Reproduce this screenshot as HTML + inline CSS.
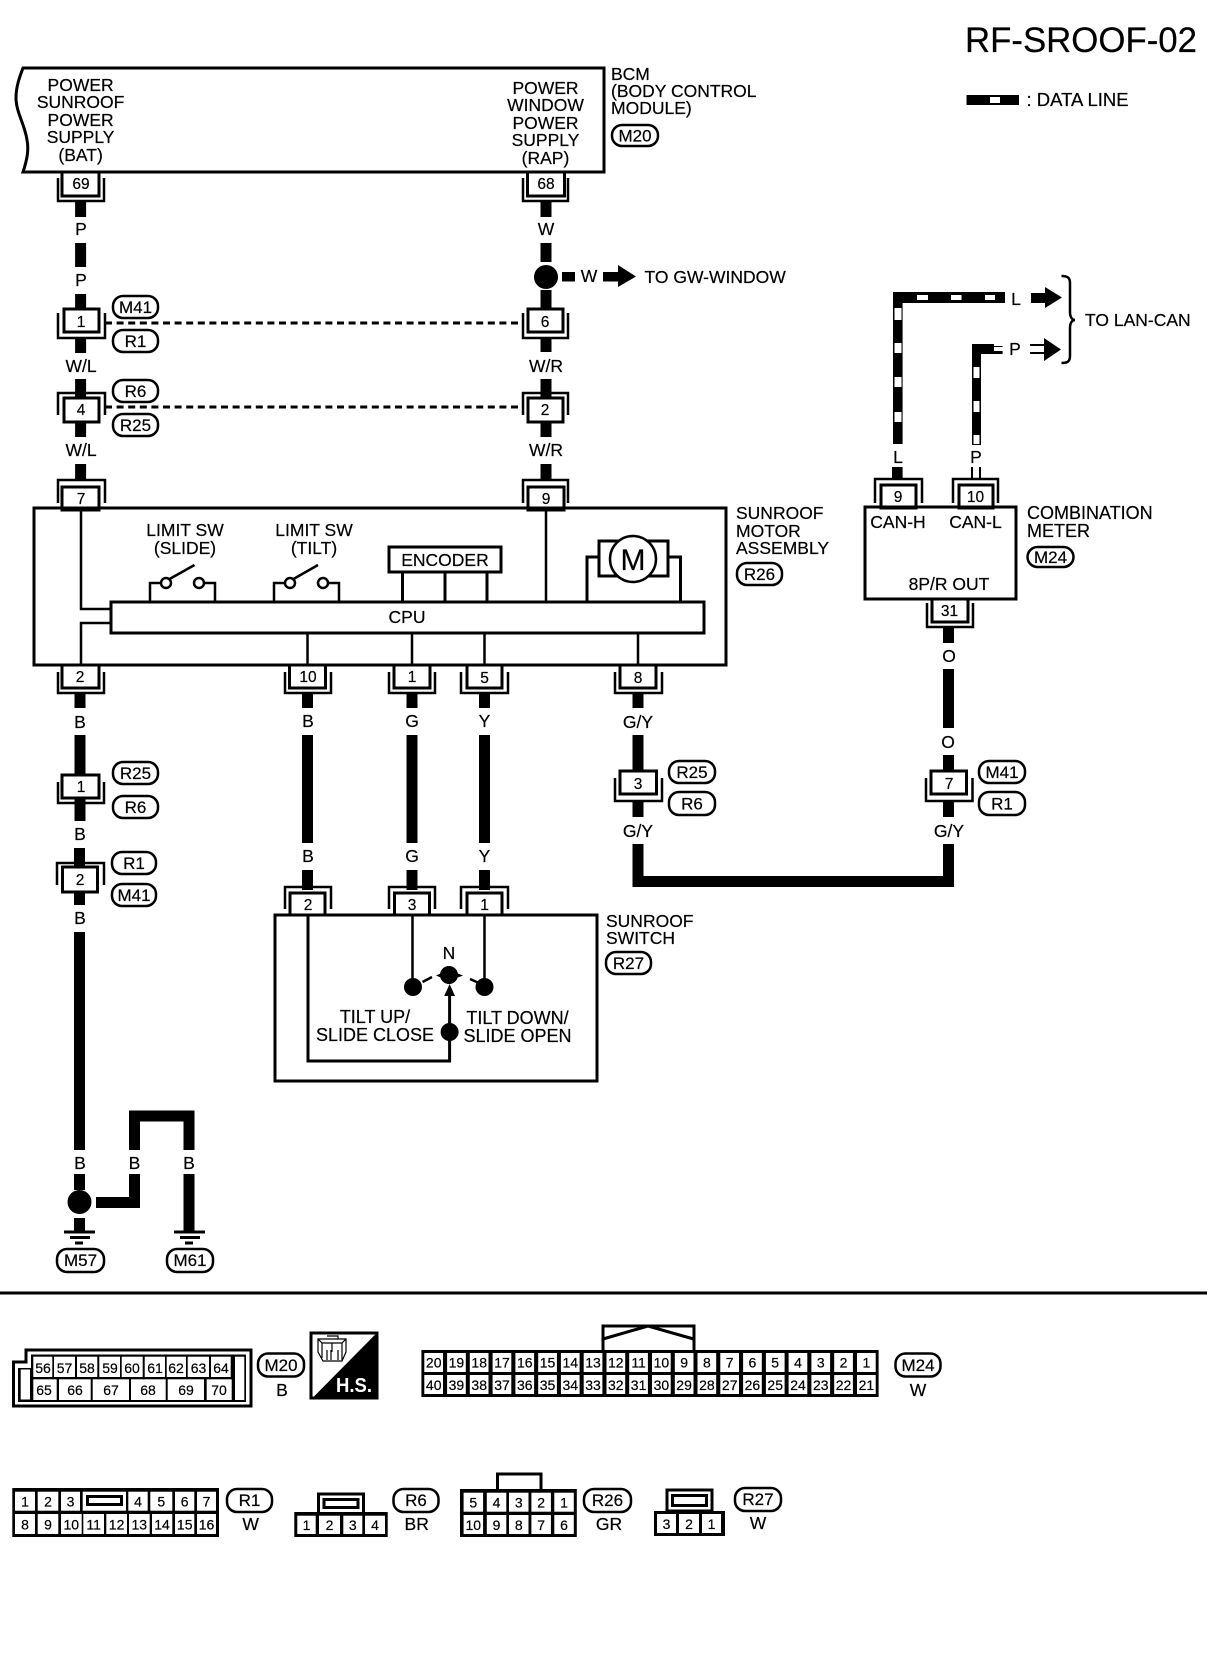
<!DOCTYPE html>
<html><head><meta charset="utf-8"><style>
html,body{margin:0;padding:0;background:#fff}
svg{display:block}
text{font-family:"Liberation Sans",sans-serif;fill:#000;stroke:#000;stroke-width:.2}
.t{font-size:17.5px}
.m{font-size:17.5px;text-anchor:middle}
.x{font-size:18px;text-anchor:middle}
.n{font-size:15.5px;text-anchor:middle}
.v{font-size:17px;text-anchor:middle}
.s{font-size:14px;text-anchor:middle}
.w{stroke:#000;stroke-width:11;fill:none}
.l{stroke:#000;stroke-width:3;fill:none}
.b{stroke:#000;stroke-width:3;fill:#fff}
.u{stroke:#000;stroke-width:2.5;fill:none}
.o{stroke:#000;stroke-width:2.5;fill:#fff}
.c{fill:#fff;stroke:none}
.k{fill:#000;stroke:none}
.d{stroke:#000;stroke-width:3;stroke-dasharray:7 4.6;fill:none}
</style></head><body>
<svg xmlns="http://www.w3.org/2000/svg" width="1216" height="1660" viewBox="0 0 1216 1660">
<rect width="1216" height="1660" fill="#fff"/>
<text x="965" y="52" style="font-size:34.8px">RF-SROOF-02</text>
<rect x="966.500" y="95" width="52.500" height="10" class="k"/><rect x="990" y="97" width="10" height="6" class="c"/>
<text x="1026.500" y="106" style="font-size:18.500px">: DATA LINE</text>

<!-- wires left -->
<path class="w" d="M80.600 202V217M80.600 243V267M80.600 294V309M80.600 338V353M80.600 379V398M80.600 422V437M80.600 464V480"/>
<path class="w" d="M546 202V217M546 243V262M546 290V309M546 338V352M546 379V398M546 422V437M546 464V480"/>
<path class="w" d="M80 693V708M80 735V821M79.500 848V867M79.500 892V905M79.500 932V1150M79.500 1174V1190M79.500 1218V1232"/>
<path class="w" d="M307.500 693V708M307.500 735V843M307.500 870V890M412 693V708M412 735V843M412 870V890M484.500 693V708M484.500 735V843M484.500 870V890"/>
<path class="w" d="M638 693V708M638 735V775M638 800V817M638 844V881.500H948.500V844M948.500 627V643M948.500 669V728M948.500 755V775M948.500 800V817"/>
<path class="w" d="M96 1202.500H134.500V1174M134.500 1150V1116H189V1150M189 1174V1232"/>
<!-- BCM -->
<path class="b" d="M23 68H604V172H23C27 160 29 150 27 140C25 125 16 112 16 98C16 86 20 76 23 68Z"/>
<text x="80.600" y="91" class="m">POWER</text><text x="80.600" y="108" class="m">SUNROOF</text><text x="80.600" y="126" class="m">POWER</text><text x="80.600" y="143" class="m">SUPPLY</text><text x="80.600" y="161" class="m">(BAT)</text>
<text x="545.500" y="94" class="m">POWER</text><text x="545.500" y="111" class="m">WINDOW</text><text x="545.500" y="129" class="m">POWER</text><text x="545.500" y="146" class="m">SUPPLY</text><text x="545.500" y="164" class="m">(RAP)</text>
<text x="611" y="80" class="t">BCM</text><text x="611" y="97" class="t">(BODY CONTROL</text><text x="611" y="114" class="t">MODULE)</text>
<rect x="612" y="125" width="46" height="21" rx="10" class="o"/><text x="635" y="141.500" class="v">M20</text>
<!-- conn 69 68 -->
<path class="u" d="M58 178V201H104V178M523 178V201H568V178"/>
<rect x="62" y="172" width="37" height="24" class="b"/><rect x="527.500" y="172" width="37" height="24" class="b"/>
<text x="81" y="189" class="n">69</text><text x="546" y="189" class="n">68</text>
<text x="81" y="235" class="m">P</text><text x="81" y="286" class="m">P</text><text x="546" y="235" class="m">W</text>
<circle cx="546" cy="277" r="12" class="k"/>
<rect x="562" y="272" width="13" height="9.500" class="k"/><text x="589" y="282" class="m">W</text>
<path class="k" d="M603 272H618V265L636 276.500L618 287V281.500H603Z"/>
<text x="644.500" y="283" class="t">TO GW-WINDOW</text>
<!-- conn 1 / 6 -->
<path class="u" d="M58 313V338H105V313M523 313V338H568V313"/>
<rect x="64" y="309" width="35" height="23" class="b"/><rect x="528" y="309" width="35" height="23" class="b"/>
<text x="81" y="327" class="n">1</text><text x="545" y="327" class="n">6</text>
<path class="d" d="M105 323H519M105 407H519"/>
<rect x="113" y="296" width="45" height="22" rx="10" class="o"/><text x="135.500" y="313" class="v">M41</text>
<rect x="113" y="330" width="45" height="22" rx="10" class="o"/><text x="135.500" y="347" class="v">R1</text>
<text x="81" y="372" class="m">W/L</text><text x="546" y="372" class="m">W/R</text>
<!-- conn 4 / 2 -->
<path class="u" d="M58 415V393H105V415M523 415V393H568V415"/>
<rect x="64" y="398" width="35" height="24" class="b"/><rect x="528" y="398" width="35" height="24" class="b"/>
<text x="81" y="415" class="n">4</text><text x="545" y="415" class="n">2</text>
<rect x="113" y="380" width="45" height="22" rx="10" class="o"/><text x="135.500" y="397" class="v">R6</text>
<rect x="113" y="414" width="45" height="22" rx="10" class="o"/><text x="135.500" y="431" class="v">R25</text>
<text x="81" y="456" class="m">W/L</text><text x="546" y="456" class="m">W/R</text>
<!-- conn 7 / 9 -->
<path class="u" d="M58 503V480H105V503M523 503V480H568V503"/>
<rect x="62" y="487" width="37" height="23" class="b"/><rect x="528" y="487" width="36" height="23" class="b"/>
<text x="81" y="504" class="n">7</text><text x="546" y="504" class="n">9</text>
<!-- motor assy -->
<rect x="34" y="508" width="692" height="157" class="l"/>
<path class="l" style="stroke-width:2.500" d="M81 508V609H111M111 623H81V665M546 508V602M307.500 633V665M412 633V665M484.500 633V665M638 633V665"/>
<rect x="111" y="602" width="593" height="31" class="b"/>
<text x="407" y="623" class="m">CPU</text>
<text x="185" y="536" class="m">LIMIT SW</text><text x="185" y="554" class="m">(SLIDE)</text>
<text x="314" y="536" class="m">LIMIT SW</text><text x="314" y="554" class="m">(TILT)</text>
<path class="u" d="M150 602V583H161M204 583H215V602M166 581L194.500 565M274 602V583H285M328 583H339V602M290 581L318 565"/>
<circle cx="166" cy="583" r="5" class="o"/><circle cx="199" cy="583" r="5" class="o"/><circle cx="290" cy="583" r="5" class="o"/><circle cx="323" cy="583" r="5" class="o"/>
<rect x="389" y="547" width="112" height="25" class="b"/><text x="445" y="566" class="m">ENCODER</text>
<path class="l" d="M402.500 572V602M445 572V602M487 572V602"/>
<path class="l" d="M587 602V557H599M668 557H680.500V602"/>
<rect x="599" y="541" width="69" height="35" class="b"/>
<circle cx="633" cy="559" r="23" class="o"/><text x="633" y="570" style="font-size:30px;text-anchor:middle">M</text>
<text x="736" y="519" class="t">SUNROOF</text><text x="736" y="537" class="t">MOTOR</text><text x="736" y="554" class="t">ASSEMBLY</text>
<rect x="737" y="563" width="45" height="22" rx="10" class="o"/><text x="759.500" y="580" class="v">R26</text>
<!-- lower connectors of motor -->
<path class="u" d="M58 672V693H104V672M285 672V693H331V672M389 672V693H435V672M461 672V693H508V672M615 672V693H662V672"/>
<g class="b"><rect x="62" y="665" width="37" height="23"/><rect x="289.500" y="665" width="36" height="23"/><rect x="394" y="665" width="36" height="23"/><rect x="467" y="665" width="35" height="23"/><rect x="620" y="665" width="36" height="23"/></g>
<text x="80" y="682" class="n">2</text><text x="308" y="682" class="n">10</text><text x="412" y="682" class="n">1</text><text x="484.500" y="683" class="n">5</text><text x="638" y="683" class="n">8</text>
<text x="80" y="728" class="m">B</text><text x="308" y="727" class="m">B</text><text x="412" y="727" class="m">G</text><text x="484.500" y="727" class="m">Y</text><text x="638" y="728" class="m">G/Y</text>
<!-- left in-line 1 and 2 -->
<path class="u" d="M58 782V803H104V782"/><rect x="62" y="775" width="37" height="23" class="b"/><text x="81" y="792" class="n">1</text>
<rect x="113" y="762" width="45" height="22" rx="10" class="o"/><text x="135.500" y="779" class="v">R25</text>
<rect x="113" y="796" width="45" height="22" rx="10" class="o"/><text x="135.500" y="813" class="v">R6</text>
<text x="80" y="840" class="m">B</text>
<path class="u" d="M57 885V863H104V885"/><rect x="62.500" y="867" width="35" height="25" class="b"/><text x="80" y="885" class="n">2</text>
<rect x="112" y="852" width="44" height="22" rx="10" class="o"/><text x="134" y="869" class="v">R1</text>
<rect x="112" y="884" width="44" height="22" rx="10" class="o"/><text x="134" y="901" class="v">M41</text>
<text x="80" y="924" class="m">B</text>
<!-- switch -->
<text x="308" y="862" class="m">B</text><text x="412" y="862" class="m">G</text><text x="484.500" y="862" class="m">Y</text>
<path class="u" d="M285 909V887H331V909M389 909V887H435V909M461 909V887H508V909"/>
<g class="b"><rect x="290" y="893" width="35" height="22"/><rect x="394.500" y="893" width="35" height="22"/><rect x="467" y="893" width="35" height="22"/></g>
<text x="308" y="910" class="n">2</text><text x="412" y="910" class="n">3</text><text x="484.500" y="910" class="n">1</text>
<rect x="275" y="915" width="322" height="166" class="l"/>
<path class="l" d="M308 915V1061H449.600V993"/><path class="u" d="M412.500 915V987M484.500 915V987M422.500 982L432 977M470 979L479 983"/>
<path class="k" d="M449.600 984L455 996H444.200Z"/>
<path class="k" d="M436 975.500L444 972H454L463 975.500L454 979H444Z"/>
<circle cx="449.600" cy="1032" r="9" class="k"/><circle cx="449" cy="975" r="9" class="k"/><circle cx="413" cy="987" r="9" class="k"/><circle cx="484.500" cy="987" r="9" class="k"/>
<text x="449" y="959" class="m">N</text>
<text x="375" y="1023" class="x">TILT UP/</text><text x="375" y="1041" class="x">SLIDE CLOSE</text>
<text x="517.500" y="1024" class="x">TILT DOWN/</text><text x="517.500" y="1042" class="x">SLIDE OPEN</text>
<text x="606" y="927" class="t">SUNROOF</text><text x="606" y="944" class="t">SWITCH</text>
<rect x="606" y="952" width="45" height="22" rx="10" class="o"/><text x="628.500" y="969" class="v">R27</text>
<!-- conn 3, 7, G/Y -->
<path class="u" d="M615 778V801H662V778M926 778V801H972.500V778"/>
<rect x="620" y="771" width="36.500" height="23" class="b"/><rect x="931" y="771" width="35.500" height="23" class="b"/>
<text x="638" y="789" class="n">3</text><text x="949" y="789" class="n">7</text>
<rect x="669" y="761" width="46" height="22" rx="10" class="o"/><text x="692" y="778" class="v">R25</text>
<rect x="669" y="792" width="46" height="23" rx="10" class="o"/><text x="692" y="809.500" class="v">R6</text>
<rect x="979" y="761" width="46" height="22" rx="10" class="o"/><text x="1002" y="778" class="v">M41</text>
<rect x="979" y="792" width="46" height="23" rx="10" class="o"/><text x="1002" y="809.500" class="v">R1</text>
<text x="638" y="837" class="m">G/Y</text><text x="949" y="837" class="m">G/Y</text>
<text x="949" y="662" class="m">O</text><text x="948" y="748" class="m">O</text>
<!-- meter -->
<path class="k" d="M893 292H1005V303H902.600V444H893Z"/>
<g class="c"><rect x="917" y="295" width="11" height="5"/><rect x="951" y="295" width="10.500" height="5"/><rect x="985" y="295" width="10" height="5"/>
<rect x="894.500" y="308" width="7" height="12"/><rect x="894.500" y="343" width="7" height="10"/><rect x="894.500" y="377" width="7" height="10"/><rect x="894.500" y="412" width="7" height="10"/></g>
<text x="1016" y="305" class="m">L</text>
<path class="k" d="M1031 293H1045V287L1062 297.500L1045 308V303H1031Z"/>
<path class="k" d="M972 344H994V346H1002.600V347H994V351H1002.600V354H981V445H972Z"/>
<g class="c"><rect x="973.500" y="367" width="6" height="11"/><rect x="973.500" y="401" width="6" height="11"/><rect x="973.500" y="435" width="6" height="9"/></g>
<text x="1015" y="355" class="m">P</text>
<path class="u" style="stroke-width:2" d="M1030 345H1044M1030 353H1044"/>
<path class="k" d="M1044 338L1061 349.500L1044 361Z"/>
<path class="u" d="M1061.500 276C1068 276 1070 278 1070 283V312C1070 317 1072 320 1075 320C1072 320 1070 323 1070 328V356C1070 361 1068 363 1061.500 363"/>
<text x="1085" y="326" class="t">TO LAN-CAN</text>
<text x="898" y="463" class="m">L</text><text x="976" y="463" class="m">P</text>
<rect x="892" y="467" width="10.600" height="13" class="k"/>
<path class="u" style="stroke-width:2" d="M972 467V480M980 467V480"/>
<path class="u" d="M875 503V479H922V503M953 503V479H998V503"/>
<rect x="881" y="485" width="35" height="23" class="b"/><rect x="959" y="485" width="34" height="23" class="b"/>
<text x="898" y="502" class="n">9</text><text x="975.500" y="502" class="n">10</text>
<rect x="865" y="507" width="151" height="92" class="l"/>
<text x="898" y="528" class="m">CAN-H</text><text x="975.500" y="528" class="m">CAN-L</text><text x="949" y="590" class="m">8P/R OUT</text>
<text x="1027" y="519" style="font-size:18px">COMBINATION</text><text x="1027" y="537" style="font-size:18px">METER</text>
<rect x="1027.500" y="547" width="46" height="20" rx="10" class="o"/><text x="1050.500" y="563" class="v">M24</text>
<path class="u" d="M927 603V627H973V603"/><rect x="932" y="599" width="36" height="23" class="b"/><text x="949.500" y="616" class="n">31</text>
<!-- grounds -->
<circle cx="79.500" cy="1202" r="12" class="k"/>
<text x="80" y="1169" class="m">B</text><text x="134.500" y="1169" class="m">B</text><text x="189" y="1169" class="m">B</text>
<path class="l" d="M64 1232H95M70 1237.500H90M75 1243H83M174 1232H205M180 1237.500H200M185 1243H193"/>
<rect x="57" y="1249" width="47" height="23" rx="10" class="o"/><text x="80.500" y="1266" class="v">M57</text>
<rect x="167" y="1249" width="46" height="23" rx="10" class="o"/><text x="190" y="1266" class="v">M61</text>
<rect x="0" y="1291.500" width="1207" height="3" class="k"/>
<!-- M20 connector -->
<path class="b" d="M13.500 1362H26V1350H251V1406H13.500Z"/>
<path class="k" d="M18 1368H31V1354.500H246V1402H18Z"/>
<g class="c"><rect x="20.700" y="1369.500" width="9.300" height="30"/>
<rect x="33.300" y="1356.700" width="19" height="20.300"/><rect x="54" y="1356.700" width="21" height="20.300"/><rect x="77" y="1356.700" width="20.300" height="20.300"/><rect x="99.300" y="1356.700" width="20.700" height="20.300"/><rect x="121.700" y="1356.700" width="21" height="20.300"/><rect x="144.700" y="1356.700" width="20.300" height="20.300"/><rect x="166.700" y="1356.700" width="19.300" height="20.300"/><rect x="187.700" y="1356.700" width="21.300" height="20.300"/><rect x="211" y="1356.700" width="19.700" height="20.300"/><rect x="235" y="1356.700" width="9.300" height="43.300"/>
<rect x="33.300" y="1379.300" width="23.400" height="20.700"/><rect x="59" y="1379.300" width="31.700" height="20.700"/><rect x="92.700" y="1379.300" width="36.300" height="20.700"/><rect x="131" y="1379.300" width="34.700" height="20.700"/><rect x="167.700" y="1379.300" width="36.300" height="20.700"/><rect x="206.700" y="1379.300" width="25" height="20.700"/></g>
<text x="43" y="1373" class="s">56</text><text x="64.500" y="1373" class="s">57</text><text x="87" y="1373" class="s">58</text><text x="110" y="1373" class="s">59</text><text x="132" y="1373" class="s">60</text><text x="155" y="1373" class="s">61</text><text x="176" y="1373" class="s">62</text><text x="198.500" y="1373" class="s">63</text><text x="221" y="1373" class="s">64</text>
<text x="44" y="1395" class="s">65</text><text x="75" y="1395" class="s">66</text><text x="111" y="1395" class="s">67</text><text x="148" y="1395" class="s">68</text><text x="186" y="1395" class="s">69</text><text x="219" y="1395" class="s">70</text>
<rect x="258" y="1353.500" width="46" height="23" rx="10" class="o"/><text x="281" y="1371" class="v">M20</text>
<text x="282" y="1396" class="m">B</text>
<!-- HS -->
<rect x="311" y="1333" width="66" height="65" class="b"/>
<path class="k" d="M377.700 1332V1398H312.500Z"/>
<path class="u" style="stroke-width:1.200" d="M318 1339H346V1352L342 1361H323L318 1352ZM318 1339L322 1343H342L346 1339M322 1343V1358M342 1343V1358M332 1343V1352M327 1336H338V1339M327 1350V1360M331 1350V1360M338 1350V1360M342 1350V1360"/>
<text x="354" y="1392" style="font-size:20px;font-weight:bold;fill:#fff;stroke:none;text-anchor:middle" textLength="36" lengthAdjust="spacingAndGlyphs">H.S.</text>
<!-- M24 -->
<path class="l" d="M603 1350V1326H694V1350"/><path class="l" d="M603 1339L648 1326L693.600 1339"/>
<rect x="421.400" y="1350" width="457.200" height="47" class="k"/>
<g class="c">
<rect x="424.300" y="1353" width="18.700" height="19"/><rect x="447.100" y="1353" width="18.700" height="19"/><rect x="469.800" y="1353" width="18.700" height="19"/><rect x="492.600" y="1353" width="18.700" height="19"/><rect x="515.400" y="1353" width="18.700" height="19"/><rect x="538.200" y="1353" width="18.700" height="19"/><rect x="560.900" y="1353" width="18.700" height="19"/><rect x="583.700" y="1353" width="18.700" height="19"/><rect x="606.500" y="1353" width="18.700" height="19"/><rect x="629.200" y="1353" width="18.700" height="19"/><rect x="652" y="1353" width="18.700" height="19"/><rect x="674.800" y="1353" width="18.700" height="19"/><rect x="697.500" y="1353" width="18.700" height="19"/><rect x="720.300" y="1353" width="18.700" height="19"/><rect x="743.100" y="1353" width="18.700" height="19"/><rect x="765.900" y="1353" width="18.700" height="19"/><rect x="788.600" y="1353" width="18.700" height="19"/><rect x="811.400" y="1353" width="18.700" height="19"/><rect x="834.200" y="1353" width="18.700" height="19"/><rect x="857" y="1353" width="18.700" height="19"/>
<rect x="424.300" y="1375" width="18.700" height="19"/><rect x="447.100" y="1375" width="18.700" height="19"/><rect x="469.800" y="1375" width="18.700" height="19"/><rect x="492.600" y="1375" width="18.700" height="19"/><rect x="515.400" y="1375" width="18.700" height="19"/><rect x="538.200" y="1375" width="18.700" height="19"/><rect x="560.900" y="1375" width="18.700" height="19"/><rect x="583.700" y="1375" width="18.700" height="19"/><rect x="606.500" y="1375" width="18.700" height="19"/><rect x="629.200" y="1375" width="18.700" height="19"/><rect x="652" y="1375" width="18.700" height="19"/><rect x="674.800" y="1375" width="18.700" height="19"/><rect x="697.500" y="1375" width="18.700" height="19"/><rect x="720.300" y="1375" width="18.700" height="19"/><rect x="743.100" y="1375" width="18.700" height="19"/><rect x="765.900" y="1375" width="18.700" height="19"/><rect x="788.600" y="1375" width="18.700" height="19"/><rect x="811.400" y="1375" width="18.700" height="19"/><rect x="834.200" y="1375" width="18.700" height="19"/><rect x="857" y="1375" width="18.700" height="19"/>
</g>
<text x="433.700" y="1367.500" class="s">20</text><text x="456.400" y="1367.500" class="s">19</text><text x="479.200" y="1367.500" class="s">18</text><text x="502" y="1367.500" class="s">17</text><text x="524.800" y="1367.500" class="s">16</text><text x="547.500" y="1367.500" class="s">15</text><text x="570.300" y="1367.500" class="s">14</text><text x="593" y="1367.500" class="s">13</text><text x="615.800" y="1367.500" class="s">12</text><text x="638.600" y="1367.500" class="s">11</text><text x="661.400" y="1367.500" class="s">10</text><text x="684.100" y="1367.500" class="s">9</text><text x="706.900" y="1367.500" class="s">8</text><text x="729.700" y="1367.500" class="s">7</text><text x="752.400" y="1367.500" class="s">6</text><text x="775.200" y="1367.500" class="s">5</text><text x="798" y="1367.500" class="s">4</text><text x="820.800" y="1367.500" class="s">3</text><text x="843.500" y="1367.500" class="s">2</text><text x="866.400" y="1367.500" class="s">1</text>
<text x="433.700" y="1390" class="s">40</text><text x="456.400" y="1390" class="s">39</text><text x="479.200" y="1390" class="s">38</text><text x="502" y="1390" class="s">37</text><text x="524.800" y="1390" class="s">36</text><text x="547.500" y="1390" class="s">35</text><text x="570.300" y="1390" class="s">34</text><text x="593" y="1390" class="s">33</text><text x="615.800" y="1390" class="s">32</text><text x="638.600" y="1390" class="s">31</text><text x="661.400" y="1390" class="s">30</text><text x="684.100" y="1390" class="s">29</text><text x="706.900" y="1390" class="s">28</text><text x="729.700" y="1390" class="s">27</text><text x="752.400" y="1390" class="s">26</text><text x="775.200" y="1390" class="s">25</text><text x="798" y="1390" class="s">24</text><text x="820.800" y="1390" class="s">23</text><text x="843.500" y="1390" class="s">22</text><text x="866.400" y="1390" class="s">21</text>
<rect x="895.500" y="1353.500" width="45" height="23" rx="10" class="o"/><text x="918" y="1371" class="v">M24</text>
<text x="918" y="1396" class="m">W</text>
<!-- R1 -->
<rect x="12.300" y="1488" width="206.700" height="49" class="k"/>
<g class="c"><rect x="15" y="1491.700" width="20" height="19"/><rect x="37.700" y="1491.700" width="20.600" height="19"/><rect x="61" y="1491.700" width="19" height="19"/><rect x="82.700" y="1491.700" width="43.300" height="19"/><rect x="128.300" y="1491.700" width="19.400" height="19"/><rect x="150.300" y="1491.700" width="22" height="19"/><rect x="175" y="1491.700" width="19.300" height="19"/><rect x="197" y="1491.700" width="19" height="19"/>
<rect x="15" y="1514" width="20" height="20"/><rect x="37.700" y="1514" width="20.600" height="20"/><rect x="61" y="1514" width="20.700" height="20"/><rect x="83.300" y="1514" width="20.700" height="20"/><rect x="106.300" y="1514" width="20.700" height="20"/><rect x="129" y="1514" width="20.700" height="20"/><rect x="152" y="1514" width="20.300" height="20"/><rect x="175" y="1514" width="19.300" height="20"/><rect x="197" y="1514" width="19" height="20"/></g>
<rect x="87.500" y="1496.500" width="34" height="8" style="fill:#fff;stroke:#000;stroke-width:3"/>
<text x="25" y="1506.500" class="s">1</text><text x="48" y="1506.500" class="s">2</text><text x="70.500" y="1506.500" class="s">3</text><text x="138" y="1506.500" class="s">4</text><text x="161.300" y="1506.500" class="s">5</text><text x="184.700" y="1506.500" class="s">6</text><text x="206.500" y="1506.500" class="s">7</text>
<text x="25" y="1529.500" class="s">8</text><text x="48" y="1529.500" class="s">9</text><text x="71.300" y="1529.500" class="s">10</text><text x="93.700" y="1529.500" class="s">11</text><text x="116.600" y="1529.500" class="s">12</text><text x="139.300" y="1529.500" class="s">13</text><text x="162" y="1529.500" class="s">14</text><text x="184.700" y="1529.500" class="s">15</text><text x="206.500" y="1529.500" class="s">16</text>
<rect x="227" y="1489" width="45" height="23" rx="10" class="o"/><text x="249.500" y="1506" class="v">R1</text>
<text x="250.700" y="1530" class="m">W</text>
<!-- R6 -->
<rect x="318.500" y="1494" width="45" height="20" class="b"/>
<rect x="324" y="1499.500" width="34" height="8" style="fill:#fff;stroke:#000;stroke-width:3"/>
<rect x="294.300" y="1512" width="93.400" height="25" class="k"/>
<g class="c"><rect x="297.300" y="1515.700" width="18.400" height="18.300"/><rect x="319" y="1515.700" width="21" height="18.300"/><rect x="343.300" y="1515.700" width="19" height="18.300"/><rect x="365" y="1515.700" width="20" height="18.300"/></g>
<text x="306.500" y="1530" class="s">1</text><text x="329.500" y="1530" class="s">2</text><text x="352.800" y="1530" class="s">3</text><text x="375" y="1530" class="s">4</text>
<rect x="393.500" y="1489" width="45" height="23" rx="10" class="o"/><text x="416" y="1506" class="v">R6</text>
<text x="416.700" y="1530" class="m">BR</text>
<!-- R26 -->
<path class="l" d="M497.500 1489V1474H541V1489"/>
<rect x="460" y="1489" width="116.800" height="48" class="k"/>
<g class="c"><rect x="463.600" y="1492.700" width="19.500" height="19"/><rect x="486.800" y="1492.700" width="19.500" height="19"/><rect x="509" y="1492.700" width="19.500" height="19"/><rect x="531.400" y="1492.700" width="19.500" height="19"/><rect x="554.300" y="1492.700" width="19.500" height="19"/>
<rect x="463.600" y="1515" width="19.500" height="19"/><rect x="486.800" y="1515" width="19.500" height="19"/><rect x="509" y="1515" width="19.500" height="19"/><rect x="531.400" y="1515" width="19.500" height="19"/><rect x="554.300" y="1515" width="19.500" height="19"/></g>
<text x="473.300" y="1507.500" class="s">5</text><text x="496.500" y="1507.500" class="s">4</text><text x="518.800" y="1507.500" class="s">3</text><text x="541.200" y="1507.500" class="s">2</text><text x="564" y="1507.500" class="s">1</text>
<text x="473.300" y="1530" class="s">10</text><text x="496.500" y="1530" class="s">9</text><text x="518.800" y="1530" class="s">8</text><text x="541.200" y="1530" class="s">7</text><text x="564" y="1530" class="s">6</text>
<rect x="584" y="1489" width="47" height="23" rx="10" class="o"/><text x="607.500" y="1506" class="v">R26</text>
<text x="609" y="1530" class="m">GR</text>
<!-- R27 -->
<rect x="667" y="1490" width="45" height="21" class="b"/>
<rect x="672.500" y="1495.500" width="34" height="10" style="fill:#fff;stroke:#000;stroke-width:3"/>
<rect x="654" y="1511" width="71" height="25" class="k"/>
<g class="c"><rect x="657" y="1514" width="19" height="19"/><rect x="679" y="1514" width="20" height="19"/><rect x="702" y="1514" width="19" height="19"/></g>
<text x="666.500" y="1529" class="s">3</text><text x="689" y="1529" class="s">2</text><text x="711.500" y="1529" class="s">1</text>
<rect x="735" y="1488" width="46" height="23" rx="10" class="o"/><text x="758" y="1505" class="v">R27</text>
<text x="758" y="1529" class="m">W</text>
</svg>
</body></html>
